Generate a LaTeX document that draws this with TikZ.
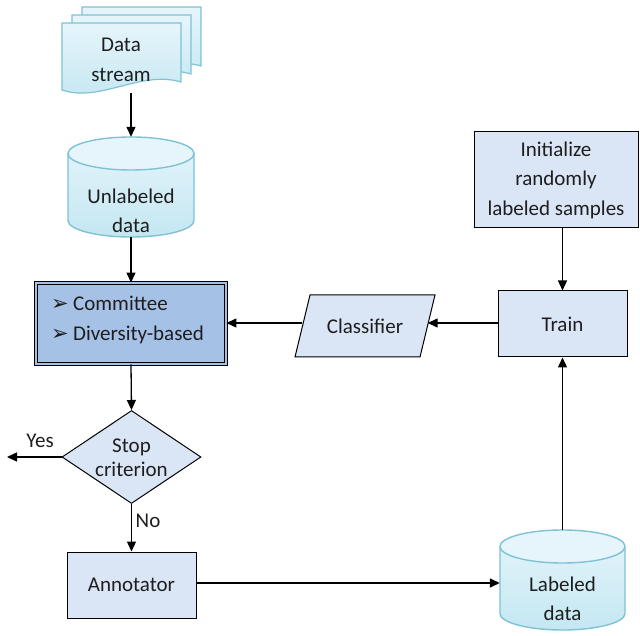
\documentclass[tikz,border=0pt]{standalone}
\usepackage{fontspec}
\setmainfont{Carlito}
\newfontfamily\symfont{DejaVu Sans}
\usetikzlibrary{arrows.meta,shapes.geometric,calc}
\definecolor{boxfill}{RGB}{218,229,246}
\definecolor{cmfill}{RGB}{166,193,230}
\definecolor{cylline}{RGB}{126,194,212}
\definecolor{cyltop}{RGB}{230,245,251}
\definecolor{cylbot}{RGB}{196,231,242}
\definecolor{txt}{RGB}{30,30,30}
\newcommand\mycyl[5]{%
  \shade[top color=cyltop,bottom color=cylbot]
    ({#1-#4},{#2-#5}) -- ({#1-#4},{#3+#5})
    arc[start angle=180,end angle=360,x radius=#4,y radius=#5]
    -- ({#1+#4},{#2-#5})
    arc[start angle=0,end angle=180,x radius=#4,y radius=#5] -- cycle;
  \draw[cylline,line width=1.4pt]
    ({#1-#4},{#2-#5}) -- ({#1-#4},{#3+#5})
    arc[start angle=180,end angle=360,x radius=#4,y radius=#5]
    -- ({#1+#4},{#2-#5});
  \fill[cyltop] (#1,{#2-#5}) ellipse[x radius=#4,y radius=#5];
  \draw[cylline,line width=1.4pt] (#1,{#2-#5}) ellipse[x radius=#4,y radius=#5];
}
\newcommand\mybullet{\makebox[22pt][l]{\symfont\fontsize{21}{21}\selectfont ➢}}
\begin{document}
\begin{tikzpicture}[x=1pt,y=1pt,
  font=\fontsize{21}{29.5}\selectfont, text=txt,
  box/.style={draw=black,line width=1pt,fill=boxfill,align=center,inner sep=0pt},
  arr/.style={line width=1.3pt,draw=black,-{Triangle[length=10pt,width=9pt]}},
  area/.style={inner sep=0pt,align=center}]
\useasboundingbox (0,0) rectangle (640,635);

% data stream (stacked documents)
\foreach \dx/\dy in {20/16,10/8,0/0}{
  \begin{scope}[shift={(\dx,\dy)}]
    \shadedraw[top color=cyltop,bottom color=cylbot,draw=cylline,line width=1.2pt]
      (62,612) -- (181,612) -- (181,553)
      .. controls (140,565) and (100,532) .. (62,545) -- cycle;
  \end{scope}
}
\node[area] (ds) at (121,575) {Data\\stream};
\coordinate (dsb) at (131,542);

% unlabeled data cylinder
\mycyl{131}{498}{398}{63}{16.5}
\node[area,minimum width=126pt,minimum height=100pt] (ul) at (131,448) {};
\node[area] (ult) at (131,424) {Unlabeled\\data};

% committee box
\node[draw=black,line width=0.9pt,double=cmfill,double distance=1.6pt,fill=cmfill,
      minimum width=190pt,minimum height=81pt,inner sep=0pt] (cm) at (131,311.5) {};
\node[anchor=base west,inner sep=0pt] (c1) at (51,324) {\mybullet Committee};
\node[anchor=base west,inner sep=0pt] (c2) at (51,294) {\mybullet Diversity-based};

% classifier parallelogram
\draw[fill=boxfill,line width=1pt] (310,340) -- (435,340) -- (420,278) -- (295,278) -- cycle;
\node[area,minimum width=125pt,minimum height=40pt] (clf) at (365,309) {Classifier};

% train
\node[box,minimum width=129pt,minimum height=66pt] (tr) at (562.5,311) {Train};

% initialize
\node[box,minimum width=164pt,minimum height=96pt] (init) at (556,455)
  {Initialize\\randomly\\labeled samples};

% stop criterion
\node[diamond,draw=black,fill=boxfill,line width=1pt,minimum width=139pt,
      minimum height=93pt,inner sep=0pt] (stop) at (131.5,178) {};
\node[area,font=\fontsize{21}{24}\selectfont] (stopt) at (131.5,177) {Stop\\criterion};

% annotator
\node[box,minimum width=129pt,minimum height=66pt] (ann) at (131.5,50) {Annotator};

% labeled data cylinder
\mycyl{562.5}{105}{5}{62.5}{16.5}
\node[area,minimum width=125pt,minimum height=100pt] (ld) at (562.5,55) {};
\node[area] (ldt) at (562.5,36) {Labeled\\data};

% connectors
\draw[arr] (dsb) -- (ul.north);
\draw[arr] (ul.south) -- (cm.north);
\draw[arr] (clf.west |- 0,312) -- (cm.east |- 0,312);
\draw[arr] (tr.west |- 0,312) -- (clf.east |- 0,312);
\draw[arr] (tr.north |- init.south) -- (tr.north);
\draw[arr] (cm.south) -- (stop.north);
\coordinate (yesend) at (7,178);
\draw[arr] (stop.west) -- (yesend);
\node (yes) at (40,194) {Yes};
\draw[arr] (stop.south) -- (ann.north);
\node (no) at (148,114) {No};
\draw[arr] (ann.east |- 0,52) -- (ld.west |- 0,52);
\draw[arr] (ld.north) -- (tr.south);
\end{tikzpicture}
\end{document}
